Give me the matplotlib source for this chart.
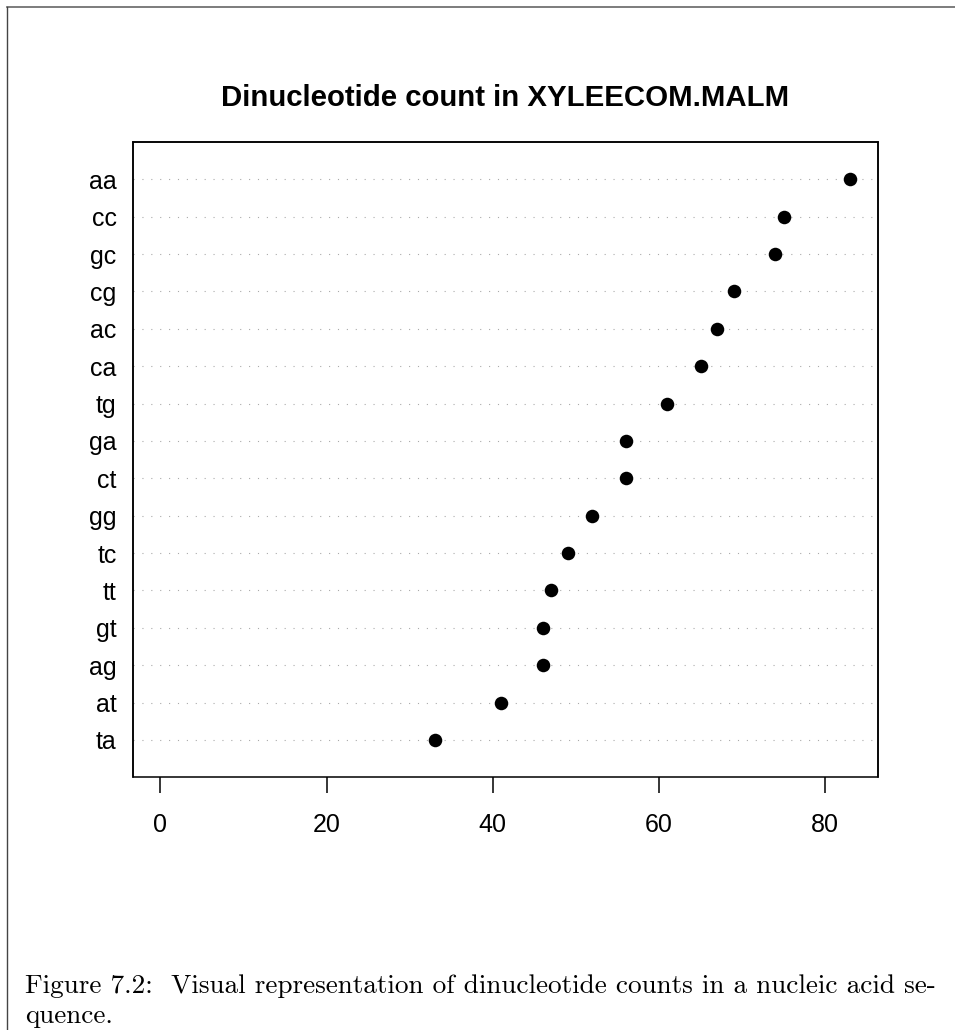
import numpy as np
import matplotlib
matplotlib.use("Agg")
from matplotlib import pyplot as plt
from matplotlib.lines import Line2D

# dinucleotide counts, sorted from most to least frequent
dinucleotides = ['aa', 'cc', 'gc', 'cg', 'ac', 'ca', 'tg', 'ga',
                 'ct', 'gg', 'tc', 'tt', 'gt', 'ag', 'at', 'ta']
counts = [83, 75, 74, 69, 67, 65, 61, 56, 56, 52, 49, 47, 46, 46, 41, 33]
xticks = [0, 20, 40, 60, 80]

title = 'Dinucleotide count in XYLEECOM.MALM'
caption_1 = 'Figure 7.2:  Visual representation of dinucleotide counts in a nucleic acid se-'
caption_2 = 'quence.'

plt.rcParams['font.family'] = ['Liberation Sans', 'DejaVu Sans']

W, H = 955, 1030
fig = plt.figure(figsize=(W / 100, H / 100), dpi=100)

# page frame (top and left rule only)
fig.add_artist(Line2D([7 / W, 1], [1 - 7 / H, 1 - 7 / H], transform=fig.transFigure,
                      color='#666666', lw=1.2))
fig.add_artist(Line2D([7 / W, 7 / W], [0, 1 - 7 / H], transform=fig.transFigure,
                      color='#444444', lw=1.0))

ax = fig.add_axes([132.7 / W, 1 - 777.3 / H, 745 / W, 635.3 / H])

n = len(counts)
ypos = np.arange(n, 0, -1)

# dotted guide lines across the whole panel, like a dotchart
for y in ypos:
    ax.axhline(y, color='#aaaaaa', lw=0.8, linestyle=(0, (1, 7)), zorder=1)

ax.scatter(counts, ypos, s=95, color='black', zorder=3, linewidths=0)

lo, hi = 0, max(counts)
pad = 0.04 * (hi - lo)
ax.set_xlim(lo - pad, hi + pad)
ax.set_ylim(0, n + 1)

ax.set_yticks(ypos)
ax.set_yticklabels(dinucleotides, fontsize=18)
ax.tick_params(axis='y', length=0, pad=11.5)

ax.set_xticks(xticks)
ax.set_xticklabels([str(t) for t in xticks], fontsize=18)
ax.tick_params(axis='x', length=11.5, width=1.1, pad=14)
ax.spines['bottom'].set_visible(False)

for s in ['top', 'left', 'right']:
    ax.spines[s].set_linewidth(1.1)
# full box drawn as a rectangle on top of the axes
ax.add_patch(plt.Rectangle((0, 0), 1, 1, transform=ax.transAxes, fill=False,
                           lw=1.1, color='black', zorder=5, clip_on=False))

fig.text((132.7 + 877.7) / 2 / W, 1 - 98 / H, title, ha='center', va='center',
         fontsize=21.2, fontweight='bold')

fig.text(25 / W, 1 - 993 / H, caption_1, ha='left', va='baseline',
         fontsize=19.6, family=['cmr10', 'DejaVu Serif'])
fig.text(25 / W, 1 - 1023 / H, caption_2, ha='left', va='baseline',
         fontsize=19.6, family=['cmr10', 'DejaVu Serif'])

fig.savefig('out.png', dpi=100)
